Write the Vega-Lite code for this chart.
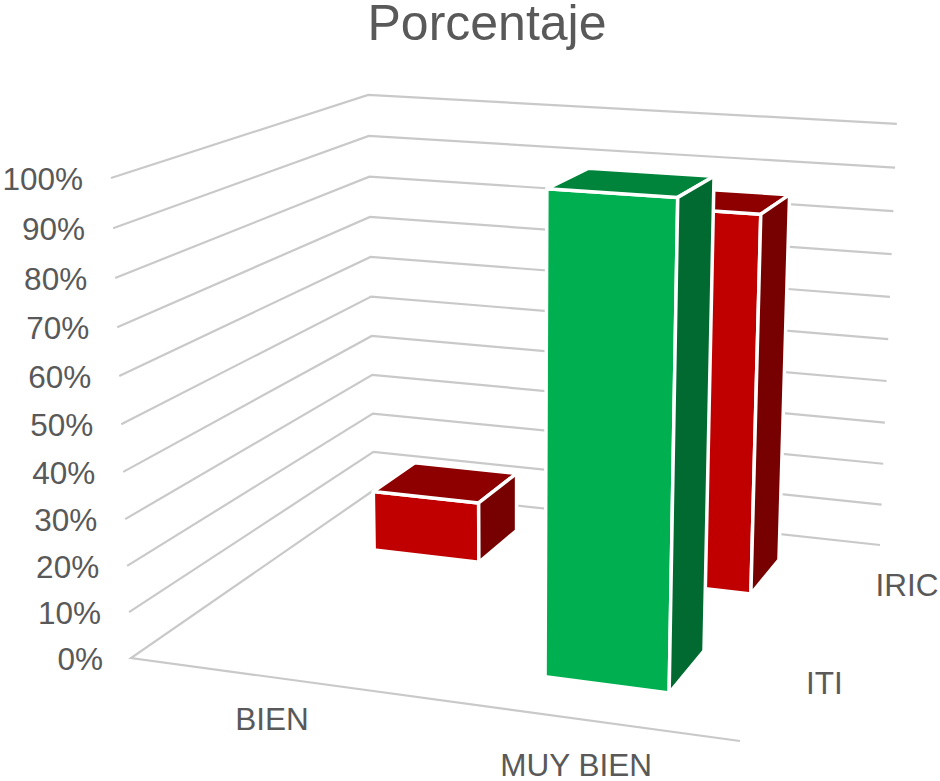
{
"$schema":"https://vega.github.io/schema/vega-lite/v6.json",
"width":940,"height":781,"padding":0,"autosize":"none",
"background":"white",
"view":{"stroke":null},
"title":{"text":"Porcentaje","font":"Liberation Sans","fontSize":50,"fontWeight":"normal","color":"#595959","anchor":"middle","dx":17,"dy":94,"baseline":"alphabetic"},
"config":{"text":{"font":"Liberation Sans","fill":"#595959"}},
"datasets":{
"barras":[
{"categoria":"BIEN","serie":"IRIC","porcentaje":14.29},
{"categoria":"MUY BIEN","serie":"IRIC","porcentaje":85.71},
{"categoria":"BIEN","serie":"ITI","porcentaje":0},
{"categoria":"MUY BIEN","serie":"ITI","porcentaje":100}
],
"marcas":[{"pct":0},{"pct":10},{"pct":20},{"pct":30},{"pct":40},{"pct":50},{"pct":60},{"pct":70},{"pct":80},{"pct":90},{"pct":100}]
},
"encoding":{
"x":{"field":"X","type":"quantitative","scale":{"domain":[0,940],"nice":false,"zero":false},"axis":null},
"y":{"field":"Y","type":"quantitative","scale":{"domain":[781,0],"nice":false,"zero":false},"axis":null}
},
"layer":[
{"data":{"name":"marcas"},
"transform":[
{"calculate":"[0,1,2,3]","as":"vertice"},{"flatten":["vertice"]},
{"filter":"datum.vertice>0||datum.pct==0"},
{"calculate":"(datum.vertice==0||datum.vertice==3)?1:0","as":"u"},
{"calculate":"datum.vertice>=2?1:0","as":"v"},
{"calculate":"datum.pct/100","as":"w"},
{"calculate":"(550.13*datum.u+327.36*datum.v-25.55*datum.w+131)/(-0.07956*datum.u+0.22557*datum.v-0.05*datum.w+1)","as":"X"},
{"calculate":"(24.05*datum.u-57.47*datum.v-488.9*datum.w+658)/(-0.07956*datum.u+0.22557*datum.v-0.05*datum.w+1)","as":"Y"}
],
"mark":{"type":"line","stroke":"#c9c9c9","strokeWidth":2.2},
"encoding":{"detail":{"field":"pct"},"order":{"field":"vertice"}}
},
{"data":{"name":"barras"},
"transform":[
{"filter":"datum.porcentaje>0"},
{"calculate":"['frente','arriba','lado']","as":"cara"},{"flatten":["cara"]},
{"calculate":"[0,1,2,3]","as":"vertice"},{"flatten":["vertice"]},
{"calculate":"datum.categoria=='BIEN'?0.147:0.646","as":"u0"},
{"calculate":"datum.serie=='ITI'?0.15:0.65","as":"v0"},
{"calculate":"datum.porcentaje/100","as":"val"},
{"calculate":"datum.u0+0.202*((datum.cara=='lado'||datum.vertice==1||datum.vertice==2)?1:0)","as":"u"},
{"calculate":"datum.v0+0.2*(datum.cara=='frente'?0:datum.cara=='arriba'?(datum.vertice>=2?1:0):((datum.vertice==1||datum.vertice==2)?1:0))","as":"v"},
{"calculate":"(datum.cara=='arriba'||datum.vertice>=2)?datum.val:0","as":"w"},
{"calculate":"(550.13*datum.u+327.36*datum.v-25.55*datum.w+131)/(-0.07956*datum.u+0.22557*datum.v-0.05*datum.w+1)","as":"X"},
{"calculate":"(24.05*datum.u-57.47*datum.v-488.9*datum.w+658)/(-0.07956*datum.u+0.22557*datum.v-0.05*datum.w+1)","as":"Y"},
{"calculate":"datum.serie+'-'+datum.cara","as":"tono"},
{"calculate":"datum.categoria+'-'+datum.serie+'-'+datum.cara","as":"pieza"}
],
"mark":{"type":"line","interpolate":"linear-closed","stroke":"white","strokeWidth":3.5,"strokeJoin":"round"},
"encoding":{
"detail":{"field":"pieza"},
"order":{"field":"vertice"},
"fill":{"field":"tono","type":"nominal","legend":null,"scale":{"domain":["IRIC-frente","IRIC-arriba","IRIC-lado","ITI-frente","ITI-arriba","ITI-lado"],"range":["#c00000","#8e0000","#770000","#00b050","#00843c","#006a30"]}}
}
},
{"data":{"name":"marcas"},
"transform":[
{"calculate":"datum.pct/100","as":"w"},
{"calculate":"datum.pct+'%'","as":"rotulo"},
{"calculate":"(-25.55*datum.w+131)/(-0.05*datum.w+1)","as":"X"},
{"calculate":"(-488.9*datum.w+658)/(-0.05*datum.w+1)","as":"Y"}
],
"mark":{"type":"text","align":"right","baseline":"middle","fontSize":31.5,"dx":-28,"dy":3},
"encoding":{"text":{"field":"rotulo"}}
},
{"data":{"values":[{"categoria":"BIEN","u":0.25},{"categoria":"MUY BIEN","u":0.75}]},
"transform":[
{"calculate":"(550.13*datum.u+131)/(-0.07956*datum.u+1)","as":"X"},
{"calculate":"(24.05*datum.u+658)/(-0.07956*datum.u+1)+41+9*datum.u","as":"Y"}
],
"mark":{"type":"text","align":"center","baseline":"middle","fontSize":31.5,"dx":-2},
"encoding":{"text":{"field":"categoria"}}
},
{"data":{"values":[{"serie":"ITI","v":0.25},{"serie":"IRIC","v":0.75}]},
"transform":[
{"calculate":"(550.13+327.36*datum.v+131)/(-0.07956+0.22557*datum.v+1)","as":"X"},
{"calculate":"(24.05-57.47*datum.v+658)/(-0.07956+0.22557*datum.v+1)","as":"Y"}
],
"mark":{"type":"text","align":"left","baseline":"middle","fontSize":31.5,"dx":25,"dy":1},
"encoding":{"text":{"field":"serie"}}
}
]
}
